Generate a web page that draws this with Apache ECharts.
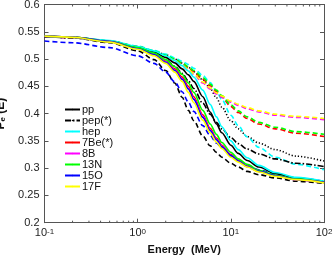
<!DOCTYPE html>
<html><head><meta charset="utf-8">
<script src="https://cdn.jsdelivr.net/npm/echarts@6/dist/echarts.min.js"></script>
<style>html,body{margin:0;padding:0;background:#fff}#c{width:333px;height:256px}</style>
</head><body><div id="c"></div>
<script>
// Energy grid (MeV)
const energies = [0.1, 0.2, 0.5, 1, 1.5, 2, 2.5, 3, 3.5, 4, 5, 6, 7, 8, 10, 12, 15, 20, 30, 50, 100];

// Solid family (legend entries)
const ppSolid    = [0.542, 0.540, 0.533, 0.522, 0.513, 0.503, 0.493, 0.482, 0.471, 0.459, 0.431, 0.403, 0.381, 0.365, 0.342, 0.327, 0.314, 0.302, 0.290, 0.282, 0.275];
const pepDashDot = [0.541, 0.539, 0.532, 0.520, 0.510, 0.499, 0.487, 0.474, 0.460, 0.446, 0.419, 0.399, 0.384, 0.372, 0.356, 0.345, 0.335, 0.326, 0.317, 0.309, 0.303];
const hepSolid   = [0.542, 0.540, 0.534, 0.523, 0.515, 0.506, 0.497, 0.488, 0.478, 0.467, 0.443, 0.417, 0.394, 0.376, 0.350, 0.334, 0.319, 0.305, 0.292, 0.283, 0.276];
const be7Solid   = [0.542, 0.540, 0.532, 0.520, 0.509, 0.496, 0.482, 0.467, 0.450, 0.431, 0.398, 0.373, 0.355, 0.342, 0.325, 0.314, 0.304, 0.295, 0.286, 0.279, 0.274];
const b8Solid    = [0.542, 0.540, 0.532, 0.519, 0.508, 0.495, 0.480, 0.464, 0.446, 0.427, 0.395, 0.370, 0.353, 0.340, 0.323, 0.313, 0.303, 0.294, 0.286, 0.279, 0.274];
const n13Solid   = [0.542, 0.540, 0.532, 0.521, 0.511, 0.499, 0.486, 0.472, 0.456, 0.439, 0.406, 0.381, 0.362, 0.347, 0.329, 0.317, 0.307, 0.296, 0.287, 0.280, 0.274];
const o15Solid   = [0.542, 0.540, 0.532, 0.519, 0.508, 0.494, 0.479, 0.463, 0.445, 0.426, 0.393, 0.369, 0.352, 0.339, 0.323, 0.313, 0.303, 0.294, 0.286, 0.279, 0.274];
const f17Solid   = [0.542, 0.540, 0.531, 0.518, 0.506, 0.492, 0.476, 0.459, 0.439, 0.420, 0.388, 0.365, 0.348, 0.336, 0.320, 0.311, 0.302, 0.293, 0.285, 0.279, 0.273];

// Dashed family (no legend entries)
const ppDashed   = [0.541, 0.539, 0.530, 0.515, 0.499, 0.479, 0.456, 0.430, 0.406, 0.387, 0.359, 0.341, 0.329, 0.320, 0.309, 0.302, 0.294, 0.288, 0.282, 0.276, 0.272];
const pepDotted  = [0.542, 0.540, 0.533, 0.523, 0.515, 0.508, 0.500, 0.493, 0.485, 0.477, 0.462, 0.446, 0.429, 0.412, 0.387, 0.372, 0.358, 0.346, 0.334, 0.322, 0.313];
const hepDashed  = [0.542, 0.540, 0.533, 0.524, 0.516, 0.509, 0.502, 0.496, 0.490, 0.483, 0.470, 0.457, 0.441, 0.426, 0.397, 0.378, 0.357, 0.338, 0.320, 0.307, 0.297];
const be7Dashed  = [0.542, 0.540, 0.533, 0.523, 0.514, 0.506, 0.499, 0.491, 0.484, 0.477, 0.463, 0.451, 0.440, 0.430, 0.413, 0.402, 0.391, 0.381, 0.372, 0.364, 0.358];
const b8Dashed   = [0.541, 0.539, 0.532, 0.521, 0.512, 0.504, 0.496, 0.488, 0.480, 0.472, 0.456, 0.445, 0.436, 0.430, 0.421, 0.415, 0.409, 0.403, 0.397, 0.393, 0.389];
const n13Dashed  = [0.542, 0.540, 0.533, 0.523, 0.515, 0.507, 0.500, 0.493, 0.486, 0.479, 0.466, 0.454, 0.443, 0.433, 0.416, 0.405, 0.394, 0.384, 0.375, 0.367, 0.362];
const o15Dashed  = [0.533, 0.530, 0.521, 0.506, 0.492, 0.476, 0.458, 0.440, 0.421, 0.404, 0.378, 0.360, 0.346, 0.337, 0.323, 0.314, 0.306, 0.297, 0.289, 0.282, 0.276];
const f17Dashed  = [0.542, 0.539, 0.532, 0.522, 0.513, 0.505, 0.497, 0.489, 0.481, 0.473, 0.458, 0.447, 0.438, 0.432, 0.423, 0.417, 0.411, 0.405, 0.399, 0.395, 0.391];

const legendNames = ['pp', 'pep(*)', 'hep', '7Be(*)', '8B', '13N', '15O', '17F'];
const lineColors  = ['#000000', '#000000', '#00ffff', '#ff0000', '#ff00ff', '#00ff00', '#0000ff', '#ffff00'];
const solidSets   = [ppSolid, pepDashDot, hepSolid, be7Solid, b8Solid, n13Solid, o15Solid, f17Solid];
const dashedSets  = [ppDashed, pepDotted, hepDashed, be7Dashed, b8Dashed, n13Dashed, o15Dashed, f17Dashed];

const xMinorTicks = [0.2,0.3,0.4,0.5,0.6,0.7,0.8,0.9, 2,3,4,5,6,7,8,9, 20,30,40,50,60,70,80,90];
const yMin = 0.2, yMax = 0.6, yStep = 0.05;

const font = "'Liberation Sans', Arial, Helvetica, sans-serif";
const axisColor = '#555';

const toPairs = arr => energies.map((e, i) => [e, arr[i]]);

const series = [];
dashedSets.forEach((arr, i) => {
  series.push({
    name: legendNames[i] + '_alt',
    type: 'line', data: toPairs(arr), showSymbol: false, symbol: 'none',
    smooth: 0.3, smoothMonotone: 'x', silent: true, z: 2,
    lineStyle: { color: lineColors[i], width: 1.6, type: i === 1 ? [1.2, 2] : [5, 3] }
  });
});
solidSets.forEach((arr, i) => {
  series.push({
    name: legendNames[i],
    type: 'line', data: toPairs(arr), showSymbol: false, symbol: 'none',
    smooth: 0.3, smoothMonotone: 'x', silent: true, z: 3,
    itemStyle: { color: lineColors[i] },
    lineStyle: { color: lineColors[i], width: 1.6, type: i === 1 ? [6, 2, 1.5, 2] : 'solid' }
  });
});
// minor log ticks, positioned via the axis scales
series.push({
  type: 'custom', silent: true, clip: false, z: 5,
  data: xMinorTicks.map(e => [e, yMin]),
  renderItem: (params, api) => {
    const e = api.value(0);
    const pb = api.coord([e, yMin]);
    const pt = api.coord([e, yMax]);
    return { type: 'group', children: [
      { type: 'line', shape: { x1: pb[0], y1: pb[1], x2: pb[0], y2: pb[1] - 2 }, style: { stroke: axisColor, lineWidth: 1 } },
      { type: 'line', shape: { x1: pt[0], y1: pt[1], x2: pt[0], y2: pt[1] + 2 }, style: { stroke: axisColor, lineWidth: 1 } }
    ]};
  }
});

const expLabel = v => '{b|10}{s|' + Math.round(Math.log10(v)) + '}';

const chart = echarts.init(document.getElementById('c'), null, { renderer: 'canvas' });
chart.setOption({
  animation: false,
  backgroundColor: '#fff',
  textStyle: { fontFamily: font },
  grid: { left: 44.5, right: 9, top: 4.5, bottom: 33.3, outerBoundsMode: 'none', containLabel: false },
  legend: {
    data: legendNames, orient: 'vertical', left: 64, top: 104, padding: 0,
    itemWidth: 15, itemHeight: 2, itemGap: 0,
    textStyle: { fontFamily: font, fontSize: 11, color: '#111', lineHeight: 10.5, padding: [0, 0, 0, -3] },
    selectedMode: false
  },
  xAxis: [{
    type: 'log', logBase: 10, min: 0.1, max: 100,
    name: 'Energy  (MeV)', nameLocation: 'middle', nameGap: 22,
    nameTextStyle: { fontFamily: font, fontSize: 11, fontWeight: 'bold', color: '#111' },
    axisLine: { show: true, lineStyle: { color: axisColor, width: 1 } },
    axisTick: { show: true, inside: true, length: 4, lineStyle: { color: axisColor } },
    minorTick: { show: false }, splitLine: { show: false },
    axisLabel: {
      margin: 5, formatter: expLabel, color: '#222',
      rich: {
        b: { fontFamily: font, fontSize: 11, color: '#222', lineHeight: 11, padding: [5, 0, 0, 0], verticalAlign: 'bottom' },
        s: { fontFamily: font, fontSize: 8, color: '#222', lineHeight: 9, verticalAlign: 'top' }
      }
    }
  }, {
    type: 'log', logBase: 10, min: 0.1, max: 100, position: 'top',
    axisLine: { show: true, lineStyle: { color: axisColor, width: 1 } },
    axisTick: { show: true, inside: true, length: 4, lineStyle: { color: axisColor } },
    axisLabel: { show: false }, splitLine: { show: false }
  }],
  yAxis: [{
    type: 'value', min: yMin, max: yMax, interval: yStep,
    name: '{p|P}{s|e}{p| (E)}', nameLocation: 'middle', nameGap: 29, nameRotate: 90,
    nameTextStyle: {
      fontFamily: font, fontSize: 12, fontWeight: 'bold', color: '#111',
      rich: {
        p: { fontFamily: font, fontSize: 12, fontWeight: 'bold', color: '#111', lineHeight: 13, verticalAlign: 'top' },
        s: { fontFamily: font, fontSize: 8, fontWeight: 'bold', color: '#111', lineHeight: 8, verticalAlign: 'bottom' }
      }
    },
    axisLine: { show: true, lineStyle: { color: axisColor, width: 1 } },
    axisTick: { show: true, inside: true, length: 4, lineStyle: { color: axisColor } },
    splitLine: { show: false },
    axisLabel: { margin: 5, fontFamily: font, fontSize: 11, color: '#222', formatter: v => String(+v.toFixed(2)) }
  }, {
    type: 'value', min: yMin, max: yMax, interval: yStep, position: 'right',
    axisLine: { show: true, lineStyle: { color: axisColor, width: 1 } },
    axisTick: { show: true, inside: true, length: 4, lineStyle: { color: axisColor } },
    axisLabel: { show: false }, splitLine: { show: false }
  }],
  series: series
});
</script>
</body></html>
